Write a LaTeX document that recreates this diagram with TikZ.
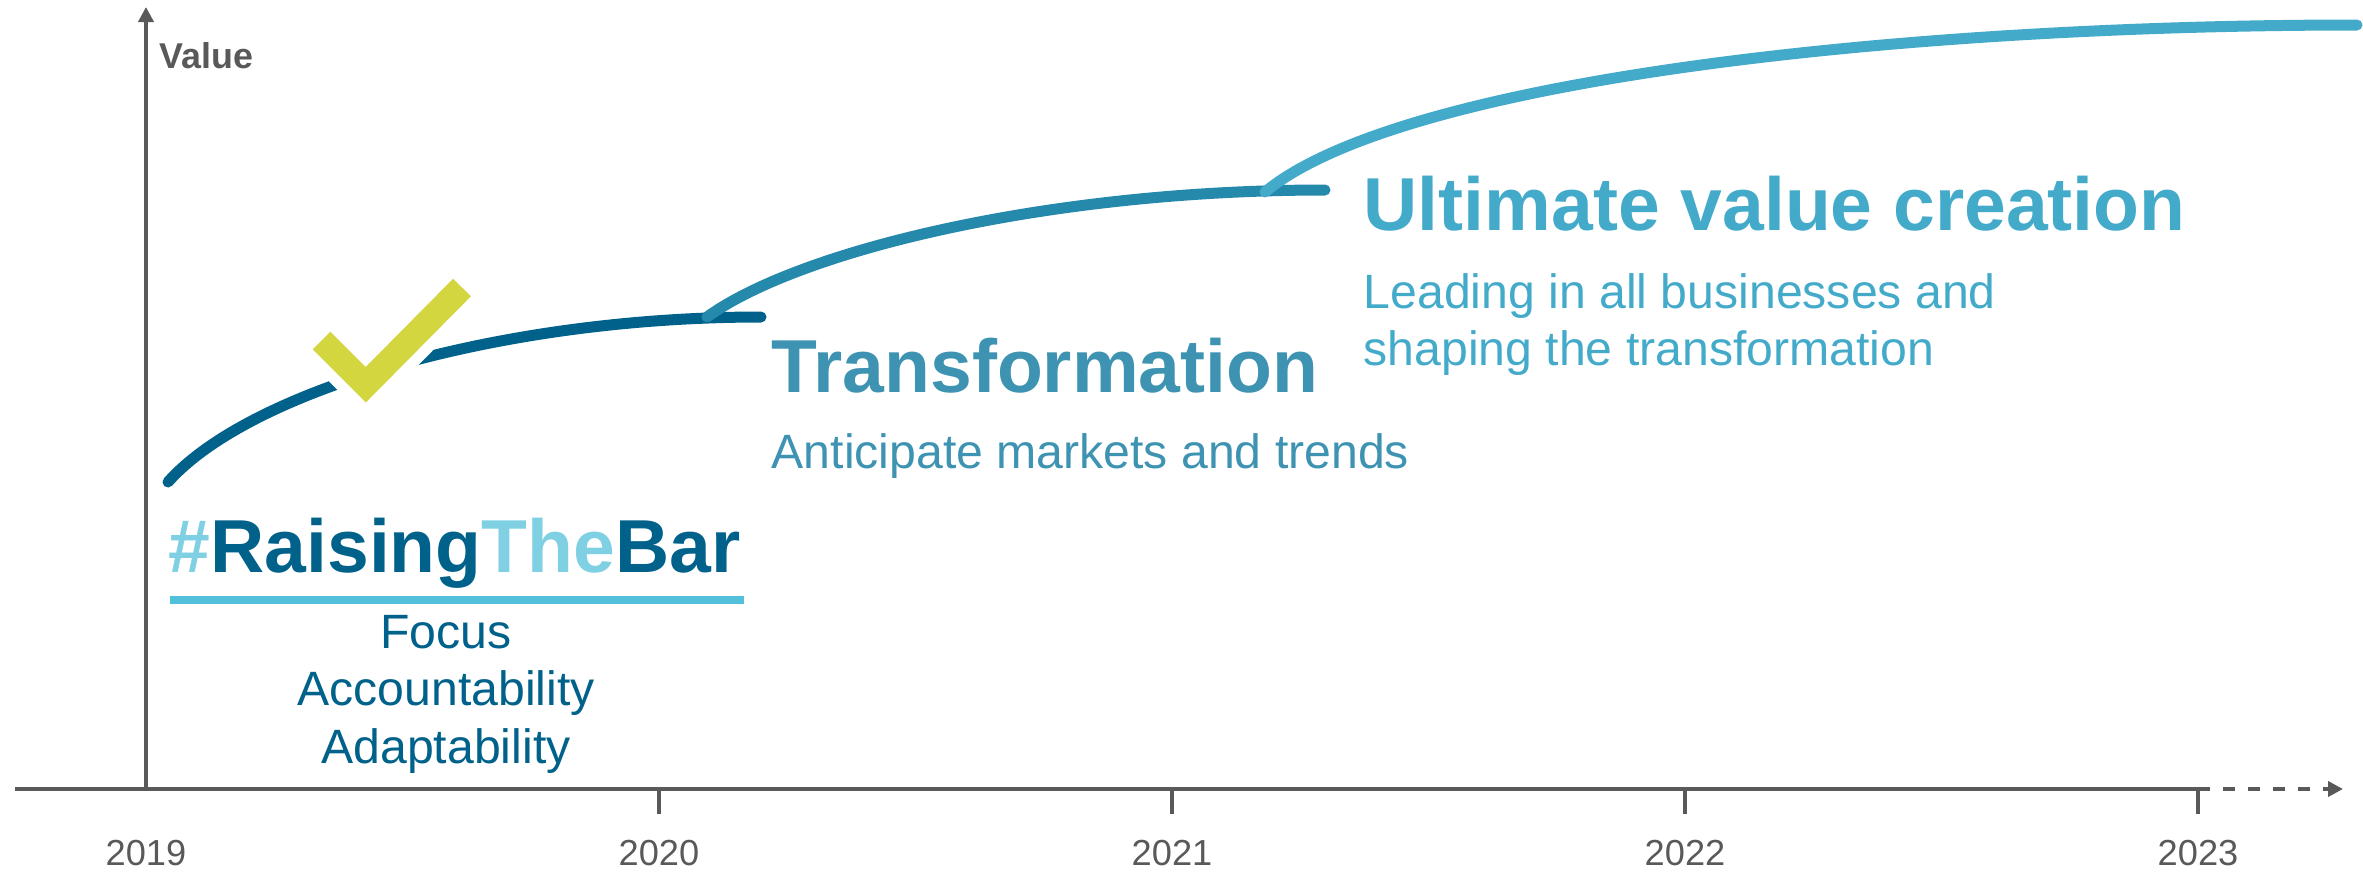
\documentclass[tikz,border=0pt]{standalone}
\usepackage{fontspec}
\setmainfont{Liberation Sans}
\usepackage{tikz}
\usetikzlibrary{arrows.meta,positioning}

\definecolor{rtbdark}{HTML}{00618A}
\definecolor{rtblight}{HTML}{7FD0E3}
\definecolor{rtbline}{HTML}{52BFDB}
\definecolor{transcurve}{HTML}{2589AB}
\definecolor{transtext}{HTML}{3D93B1}
\definecolor{ultimate}{HTML}{43AACA}
\definecolor{checkgreen}{HTML}{D4D63F}
\definecolor{axisgrey}{HTML}{595959}

\begin{document}
\begin{tikzpicture}[>={Triangle[length=0.15cm,width=0.15cm]},x=0.01cm,y=-0.01cm,
    axis/.style={draw=axisgrey,line width=0.04cm},
    curve/.style={line width=0.11cm,line cap=round},
    title/.style={inner sep=0pt,anchor=base west,font=\bfseries\fontsize{21.35}{25}\selectfont},
    desc/.style={inner sep=0pt,anchor=base west,font=\fontsize{13.7}{16}\selectfont},
    year/.style={inner sep=0pt,anchor=base,text=axisgrey,font=\fontsize{10.3}{12}\selectfont}]
    \useasboundingbox (0,0) rectangle (2363,872);

    % axes
    \coordinate (o)     at (146,789);
    \coordinate (xs)    at (15,789);
    \coordinate (top)   at (146,7);
    \coordinate (t2020) at (659,789);
    \coordinate (t2021) at (1172,789);
    \coordinate (t2022) at (1685,789);
    \coordinate (t2023) at (2198,789);
    \coordinate (xe)    at (2343,789);

    \draw[axis] (xs) -- (t2023);
    \draw[axis,->,dash pattern=on 0.12cm off 0.13cm] (t2023) -- (xe);
    \draw[axis,->] (o) -- (top);
    \draw[axis] (t2020) -- ++(0,25);
    \draw[axis] (t2021) -- ++(0,25);
    \draw[axis] (t2022) -- ++(0,25);
    \draw[axis] (t2023) -- ++(0,25);

    \node[inner sep=0pt,anchor=base west,text=axisgrey,font=\bfseries\fontsize{10.2}{12}\selectfont] (value) at (159,68) {Value};
    \node[year] (y2019) at (146,865)  {2019};
    \node[year] (y2020) at (659,865)  {2020};
    \node[year] (y2021) at (1172,865) {2021};
    \node[year] (y2022) at (1685,865) {2022};
    \node[year] (y2023) at (2198,865) {2023};

    % curves
    \coordinate (c1s) at (168,482);
    \coordinate (c1e) at (761,317);
    \coordinate (c2s) at (707,317);
    \coordinate (c2e) at (1325,190);
    \coordinate (c3s) at (1265,192);
    \coordinate (c3e) at (2357,25);

    \draw[curve,rtbdark] (c1s) .. controls (250,390) and (500,317) .. (c1e);

    % check mark
    \coordinate (ck1) at (321.5,340.5);
    \coordinate (ck2) at (365.75,384.75);
    \coordinate (ck3) at (462,287.5);
    \draw[white,line width=0.47cm] (ck1) -- (ck2) -- (ck3);
    \draw[checkgreen,line width=0.25cm] (ck1) -- (ck2) -- (ck3);

    \draw[curve,transcurve] (c2s) .. controls (800,250) and (1050,190) .. (c2e);
    \draw[curve,ultimate] (c3s) .. controls (1400,80) and (1900,25) .. (c3e);

    % texts
    \node[title] (rtb) at (168,572) {\textcolor{rtblight}{\#}\textcolor{rtbdark}{Raising}\textcolor{rtblight}{The}\textcolor{rtbdark}{Bar}};
    \coordinate (ul1) at (170,599.5);
    \coordinate (ul2) at (744,599.5);
    \draw[rtbline,line width=0.08cm] (ul1) -- (ul2);

    \node[desc,anchor=base,text=rtbdark] (focus) at (446,648) {Focus};
    \node[desc,text=rtbdark,below=0.57cm of focus.base,anchor=base] (account) {Accountability};
    \node[desc,text=rtbdark,below=0.58cm of account.base,anchor=base] (adapt) {Adaptability};

    \node[title,text=transtext] (trans) at (771,392) {Transformation};
    \node[desc,text=transtext,below=0.76cm of trans.base west,anchor=base west] (antic) {Anticipate markets and trends};

    \node[title,text=ultimate] (ult) at (1363,230) {Ultimate value creation};
    \node[desc,text=ultimate,below=0.78cm of ult.base west,anchor=base west] (lead) {Leading in all businesses and};
    \node[desc,text=ultimate,below=0.57cm of lead.base west,anchor=base west] (shape) {shaping the transformation};

\end{tikzpicture}
\end{document}
